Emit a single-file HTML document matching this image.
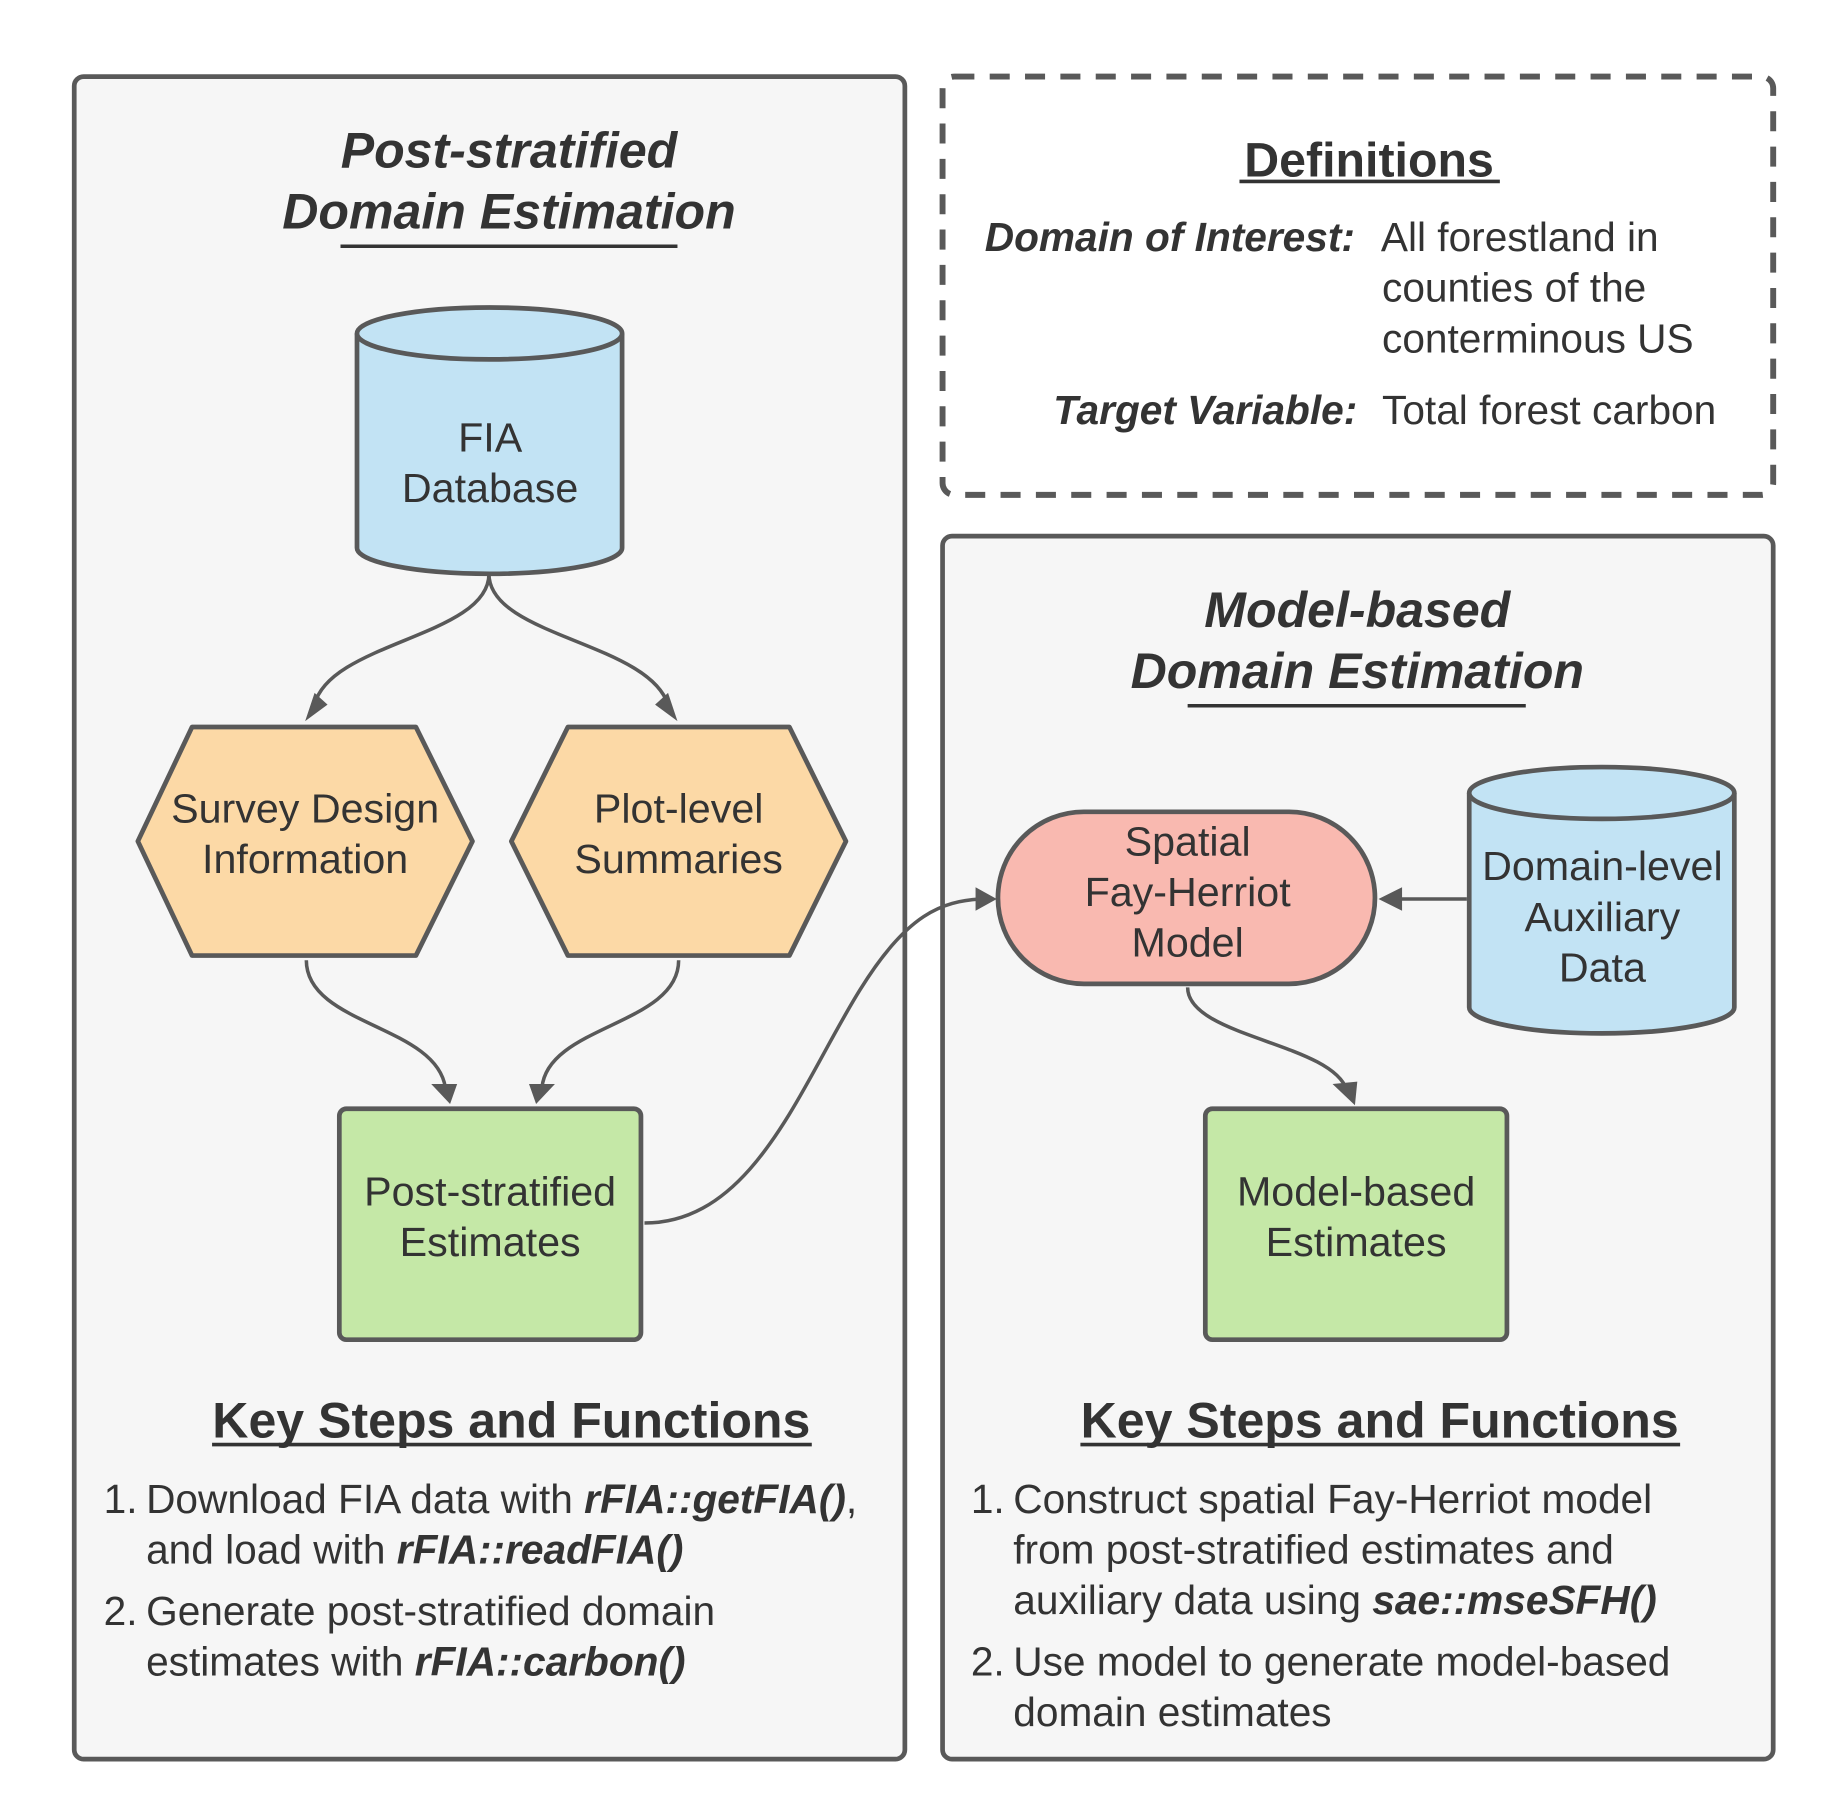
<!DOCTYPE html>
<html><head><meta charset="utf-8"><style>
html,body{margin:0;padding:0;background:#fff;}
svg{display:block;}
text{font-family:"Liberation Sans",Arial,sans-serif;fill:#333;}
</style></head><body>
<svg width="1838" height="1811" viewBox="0 0 1560 1537" preserveAspectRatio="none" xmlns="http://www.w3.org/2000/svg">
<rect width="1560" height="1537" fill="#fff"/>
<!-- panels -->
<rect x="63" y="65" width="705" height="1428" rx="8" fill="#f6f6f6" stroke="#595959" stroke-width="4"/>
<rect x="800" y="65" width="705" height="355" rx="10" fill="#fff" stroke="#595959" stroke-width="5" stroke-dasharray="17,13"/>
<rect x="800" y="455" width="705" height="1038" rx="8" fill="#f6f6f6" stroke="#595959" stroke-width="4"/>

<!-- left title -->
<text x="432" y="142" font-size="42.5" font-weight="bold" font-style="italic" text-anchor="middle">Post-stratified</text>
<text x="432" y="194" font-size="42.5" font-weight="bold" font-style="italic" text-anchor="middle">Domain Estimation</text>
<line x1="289" y1="209" x2="575" y2="209" stroke="#333" stroke-width="3"/>

<!-- definitions -->
<text x="1162" y="150" font-size="41" font-weight="bold" text-anchor="middle">Definitions</text>
<line x1="1052" y1="154" x2="1273" y2="154" stroke="#333" stroke-width="3"/>
<text x="1150" y="213" font-size="34.5" font-weight="bold" font-style="italic" text-anchor="end">Domain of Interest:</text>
<text x="1172" y="213" font-size="34.5">All forestland in</text>
<text x="1173" y="256" font-size="34.5">counties of the</text>
<text x="1173" y="299" font-size="34.5">conterminous US</text>
<text x="1152" y="360" font-size="34.5" font-weight="bold" font-style="italic" text-anchor="end">Target Variable:</text>
<text x="1173" y="360" font-size="34.5">Total forest carbon</text>

<!-- right title -->
<text x="1152" y="532" font-size="42.5" font-weight="bold" font-style="italic" text-anchor="middle">Model-based</text>
<text x="1152" y="584" font-size="42.5" font-weight="bold" font-style="italic" text-anchor="middle">Domain Estimation</text>
<line x1="1008" y1="599" x2="1295" y2="599" stroke="#333" stroke-width="3"/>

<!-- connectors -->
<g fill="none" stroke="#595959" stroke-width="3">
<path d="M415,487 C415,540 280,545 267,598"/>
<path d="M415,487 C415,540 550,545 567,598"/>
<path d="M260,815 C260,870 370,870 378,923"/>
<path d="M576,815 C576,870 465,870 460,923"/>
<path d="M547,1038 C640,1038 680,920 730,840 C770,775 800,765 832,763"/>
<path d="M1245,763 L1186,763"/>
<path d="M1008,838 C1008,880 1130,885 1143,925"/>
</g>
<g fill="#595959">
<polygon points="259,612 267,588 278,598"/>
<polygon points="575,612 556,598 567,588"/>
<polygon points="382,937 366,920 388,920"/>
<polygon points="455,937 449,920 471,920"/>
<polygon points="846,763 828,753 828,773"/>
<polygon points="1170,763 1190,753 1190,773"/>
<polygon points="1150,938 1131,920 1152,918"/>
</g>

<!-- FIA cylinder -->
<path d="M303,283 L303,465 A112.5,22 0 0 0 528,465 L528,283" fill="#c2e3f4" stroke="#595959" stroke-width="4"/>
<ellipse cx="415.5" cy="283" rx="112.5" ry="22" fill="#c2e3f4" stroke="#595959" stroke-width="4"/>
<text x="416" y="383" font-size="35" text-anchor="middle">FIA</text>
<text x="416" y="426" font-size="35" text-anchor="middle">Database</text>

<!-- hexagons -->
<polygon points="163,617 353,617 401,714 353,811 163,811 117,714" fill="#fcd9a6" stroke="#595959" stroke-width="4" stroke-linejoin="round"/>
<text x="259" y="698" font-size="35" text-anchor="middle">Survey Design</text>
<text x="259" y="741" font-size="35" text-anchor="middle">Information</text>
<polygon points="482,617 670,617 718,714 670,811 482,811 434,714" fill="#fcd9a6" stroke="#595959" stroke-width="4" stroke-linejoin="round"/>
<text x="576" y="698" font-size="35" text-anchor="middle">Plot-level</text>
<text x="576" y="741" font-size="35" text-anchor="middle">Summaries</text>

<!-- green boxes -->
<rect x="288" y="941" width="256" height="196" rx="6" fill="#c5e8a7" stroke="#595959" stroke-width="4"/>
<text x="416" y="1023" font-size="35" text-anchor="middle">Post-stratified</text>
<text x="416" y="1066" font-size="35" text-anchor="middle">Estimates</text>
<rect x="1023" y="941" width="256" height="196" rx="6" fill="#c5e8a7" stroke="#595959" stroke-width="4"/>
<text x="1151" y="1023" font-size="35" text-anchor="middle">Model-based</text>
<text x="1151" y="1066" font-size="35" text-anchor="middle">Estimates</text>

<!-- pill -->
<rect x="847" y="689" width="320" height="146" rx="73" fill="#f9b9b0" stroke="#595959" stroke-width="4"/>
<text x="1008" y="726" font-size="35" text-anchor="middle">Spatial</text>
<text x="1008" y="769" font-size="35" text-anchor="middle">Fay-Herriot</text>
<text x="1008" y="812" font-size="35" text-anchor="middle">Model</text>

<!-- aux cylinder -->
<path d="M1247,673 L1247,855 A112.5,22 0 0 0 1472,855 L1472,673" fill="#c2e3f4" stroke="#595959" stroke-width="4"/>
<ellipse cx="1359.5" cy="673" rx="112.5" ry="22" fill="#c2e3f4" stroke="#595959" stroke-width="4"/>
<text x="1360" y="747" font-size="35" text-anchor="middle">Domain-level</text>
<text x="1360" y="790" font-size="35" text-anchor="middle">Auxiliary</text>
<text x="1360" y="833" font-size="35" text-anchor="middle">Data</text>

<!-- key steps left -->
<text x="434" y="1220" font-size="42.5" font-weight="bold" text-anchor="middle">Key Steps and Functions</text>
<line x1="180" y1="1226" x2="689" y2="1226" stroke="#333" stroke-width="3"/>
<g font-size="34.5">
<text x="88" y="1284">1.</text>
<text x="124" y="1284">Download FIA data with <tspan font-weight="bold" font-style="italic">rFIA::getFIA()</tspan>,</text>
<text x="124" y="1327">and load with <tspan font-weight="bold" font-style="italic">rFIA::readFIA()</tspan></text>
<text x="88" y="1379">2.</text>
<text x="124" y="1379">Generate post-stratified domain</text>
<text x="124" y="1422">estimates with <tspan font-weight="bold" font-style="italic">rFIA::carbon()</tspan></text>
</g>

<!-- key steps right -->
<text x="1171" y="1220" font-size="42.5" font-weight="bold" text-anchor="middle">Key Steps and Functions</text>
<line x1="917" y1="1226" x2="1426" y2="1226" stroke="#333" stroke-width="3"/>
<g font-size="34.5">
<text x="824" y="1284">1.</text>
<text x="860" y="1284">Construct spatial Fay-Herriot model</text>
<text x="860" y="1327">from post-stratified estimates and</text>
<text x="860" y="1370">auxiliary data using <tspan font-weight="bold" font-style="italic">sae::mseSFH()</tspan></text>
<text x="824" y="1422">2.</text>
<text x="860" y="1422">Use model to generate model-based</text>
<text x="860" y="1465">domain estimates</text>
</g>
</svg>
</body></html>
